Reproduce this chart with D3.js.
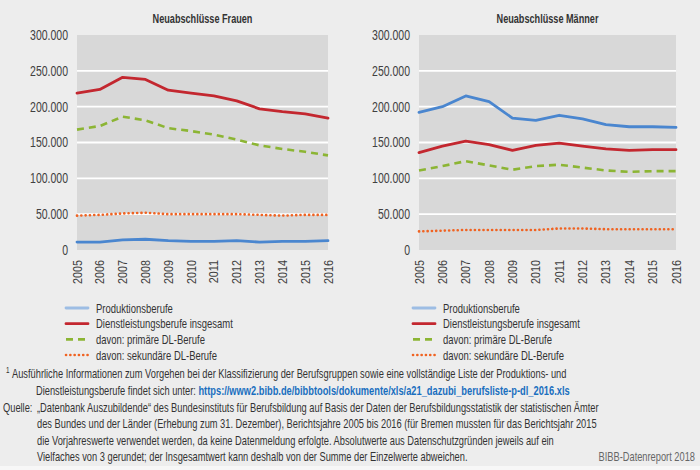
<!DOCTYPE html>
<html>
<head>
<meta charset="utf-8">
<script src="https://cdn.jsdelivr.net/npm/d3@7"></script>
<style>
  body { margin: 0; background: #ededed; }
  svg { display: block; font-family: "Liberation Sans", Arial, sans-serif; }
</style>
</head>
<body>
<div id="chart"></div>
<script>
// data
var years = ["2005","2006","2007","2008","2009","2010","2011","2012","2013","2014","2015","2016"];
var yTicks = [0, 50000, 100000, 150000, 200000, 250000, 300000];

var fProd   = [11000, 11000, 14000, 15000, 13000, 12000, 12000, 13000, 11000, 12000, 12000, 13000];
var fDL     = [219000, 224000, 241000, 238000, 223000, 219000, 215000, 208000, 197000, 193000, 190000, 184000];
var fPrim   = [168000, 173000, 186000, 181000, 170000, 166000, 161000, 154000, 146000, 141000, 137000, 132000];
var fSek    = [48000, 49000, 51000, 52000, 50000, 50000, 50000, 50000, 49000, 48000, 49000, 49000];

var mProd   = [192000, 200000, 215000, 207000, 184000, 181000, 188000, 183000, 175000, 172000, 172000, 171000];
var mDL     = [136000, 145000, 152000, 147000, 139000, 146000, 149000, 145000, 141000, 139000, 140000, 140000];
var mPrim   = [111000, 117000, 124000, 118000, 112000, 117000, 119000, 115000, 111000, 109000, 110000, 110000];
var mSek    = [26000, 27000, 28000, 28000, 28000, 28000, 30000, 30000, 29000, 29000, 29000, 29000];

var legendLabels = ["Produktionsberufe", "Dienstleistungsberufe insgesamt", "davon: primäre DL-Berufe", "davon: sekundäre DL-Berufe"];

var styles = [
  {stroke: "#4a86cf", legend: "#9dbde4", width: 2.8, dash: null, cap: "round"},
  {stroke: "#c3272f", legend: "#c3272f", width: 2.8, dash: null, cap: "round"},
  {stroke: "#8cb534", legend: "#8cb534", width: 2.6, dash: "7,5", cap: "butt"},
  {stroke: "#f06322", legend: "#f06322", width: 2.6, dash: "0.1,4.2", cap: "round"}
];

var W = 700, H = 470;
var svg = d3.select("#chart")
  .append("svg")
    .attr("width", W)
    .attr("height", H);

svg.append("rect").attr("width", W).attr("height", H).attr("fill", "#ededed");
svg.append("rect").attr("y", 466).attr("width", W).attr("height", 4).attr("fill", "#f7f7f7");

// the reference uses a condensed font; measure and squeeze horizontally
function measure(str, size, weight){
  var t = svg.append("text").attr("font-size", size).attr("font-weight", weight || "normal").text(str);
  var w = t.node().getComputedTextLength();
  t.remove();
  return w;
}
var sTick   = 38 / measure("300.000", 14);
var sYear   = 24 / measure("2005", 13);
var sTitle  = 100 / measure("Neuabschlüsse Frauen", 13, "bold");
var sLegend = 137 / measure("Dienstleistungsberufe insgesamt", 13);

var fmt = function(v){ return v == 0 ? "0" : d3.format(",")(v).replace(/,/g, "."); };

function panel(x0, x1, title, series){
  var x = d3.scalePoint().domain(years).range([x0, x1]);
  var y = d3.scaleLinear().domain([0, 300000]).range([250, 35]);

  var g = svg.append("g");
  g.append("rect")
    .attr("x", x0).attr("y", y(300000))
    .attr("width", x1 - x0).attr("height", y(0) - y(300000))
    .attr("fill", "#d8d8d8");

  // grid
  g.selectAll(".grid").data(yTicks.filter(function(d){ return d > 0 && d < 300000; }))
    .enter().append("line")
    .attr("x1", x0).attr("x2", x1)
    .attr("y1", function(d){ return y(d); }).attr("y2", function(d){ return y(d); })
    .attr("stroke", "#ffffff").attr("stroke-width", 1.8);

  // y axis labels
  g.selectAll(".yl").data(yTicks).enter().append("text")
    .attr("transform", function(d){ return "translate(" + (x0 - 9) + "," + y(d) + ") scale(" + sTick + ",1)"; })
    .attr("dy", "0.35em")
    .attr("text-anchor", "end")
    .attr("font-size", 14)
    .attr("fill", "#404040")
    .text(fmt);

  // x axis labels, rotated
  g.selectAll(".xl").data(years).enter().append("text")
    .attr("transform", function(d){ return "translate(" + (x(d) + 4.5) + ",260) rotate(-90) scale(" + sYear + ",1)"; })
    .attr("text-anchor", "end")
    .attr("font-size", 13)
    .attr("fill", "#404040")
    .text(function(d){ return d; });

  g.append("text")
    .attr("transform", "translate(" + ((x0 + x1) / 2) + ",23) scale(" + sTitle + ",1)")
    .attr("text-anchor", "middle")
    .attr("font-size", 13)
    .attr("font-weight", "bold")
    .attr("fill", "#333")
    .text(title);

  var line = d3.line()
    .x(function(d, i){ return x(years[i]); })
    .y(function(d){ return y(d); });

  // draw bottom-most first
  [3, 2, 1, 0].forEach(function(k){
    g.append("path")
      .datum(series[k])
      .attr("fill", "none")
      .attr("stroke", styles[k].stroke)
      .attr("stroke-width", styles[k].width)
      .attr("stroke-dasharray", styles[k].dash)
      .attr("stroke-linecap", styles[k].cap)
      .attr("stroke-linejoin", "round")
      .attr("d", line);
  });
}

function legend(lx, tx){
  var ly = d3.scalePoint().domain(legendLabels).range([308, 355]);
  var g = svg.append("g");
  legendLabels.forEach(function(lab, k){
    g.append("line")
      .attr("x1", lx).attr("x2", lx + 22)
      .attr("y1", ly(lab)).attr("y2", ly(lab))
      .attr("stroke", styles[k].legend)
      .attr("stroke-width", styles[k].width)
      .attr("stroke-dasharray", styles[k].dash)
      .attr("stroke-linecap", styles[k].cap);
    g.append("text")
      .attr("transform", "translate(" + tx + "," + ly(lab) + ") scale(" + sLegend + ",1)")
      .attr("dy", "0.35em")
      .attr("font-size", 13)
      .attr("fill", "#333")
      .text(lab);
  });
}

panel(77, 328, "Neuabschlüsse Frauen", [fProd, fDL, fPrim, fSek]);
panel(419, 676, "Neuabschlüsse Männer", [mProd, mDL, mPrim, mSek]);
legend(66, 96);
legend(413, 443);

// footnotes
var note1 = "Ausführliche Informationen zum Vorgehen bei der Klassifizierung der Berufsgruppen sowie eine vollständige Liste der Produktions- und";
var note2 = "Dienstleistungsberufe findet sich unter: ";
var link = "https://www2.bibb.de/bibbtools/dokumente/xls/a21_dazubi_berufsliste-p-dl_2016.xls";
var qLines = [
  "„Datenbank Auszubildende“ des Bundesinstituts für Berufsbildung auf Basis der Daten der Berufsbildungsstatistik der statistischen Ämter",
  "des Bundes und der Länder (Erhebung zum 31. Dezember), Berichtsjahre 2005 bis 2016 (für Bremen mussten für das Berichtsjahr 2015",
  "die Vorjahreswerte verwendet werden, da keine Datenmeldung erfolgte. Absolutwerte aus Datenschutzgründen jeweils auf ein",
  "Vielfaches von 3 gerundet; der Insgesamtwert kann deshalb von der Summe der Einzelwerte abweichen."
];
var sNote = 555 / measure(note1, 12.5);

var notes = svg.append("g").attr("font-size", 12.5).attr("fill", "#333");
function noteText(x, y){
  return notes.append("text").attr("transform", "translate(" + x + "," + y + ") scale(" + sNote + ",1)");
}
noteText(6, 373).attr("font-size", 8.5).text("1");
noteText(12, 378).text(note1);
var t2 = noteText(36, 394.5);
t2.append("tspan").text(note2);
t2.append("tspan").attr("fill", "#1a6fbf").attr("font-weight", "bold").text(link);
noteText(3, 412).text("Quelle:");
qLines.forEach(function(d, i){
  noteText(37, 412 + i * 16.3).text(d);
});
noteText(695, 461).attr("text-anchor", "end").attr("fill", "#666").text("BIBB-Datenreport 2018");
</script>
</body>
</html>
